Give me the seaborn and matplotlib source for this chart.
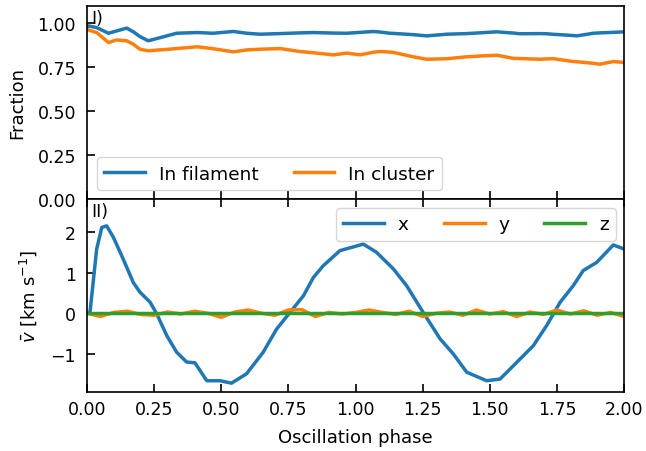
import numpy as np
import pandas as pd
import matplotlib
matplotlib.use("Agg")
import matplotlib.pyplot as plt
import seaborn as sns

# Fraction of particles in each structure vs oscillation phase
frac_phase = [0.0, 0.005, 0.036, 0.08, 0.11, 0.148, 0.173, 0.197, 0.228, 0.26,
              0.297, 0.334, 0.41, 0.47, 0.545, 0.595, 0.644, 0.719, 0.793, 0.843,
              0.917, 0.967, 1.017, 1.066, 1.091, 1.128, 1.141, 1.215, 1.265, 1.34,
              1.414, 1.47, 1.526, 1.588, 1.613, 1.687, 1.712, 1.737, 1.811, 1.824,
              1.886, 1.91, 1.96, 2.0]
in_filament = [0.975, 0.985, 0.975, 0.943, 0.956, 0.972, 0.951, 0.924, 0.90, 0.913,
               0.928, 0.943, 0.947, 0.943, 0.953, 0.943, 0.9375, 0.941, 0.945, 0.947,
               0.944, 0.943, 0.948, 0.953, 0.950, 0.943, 0.942, 0.935, 0.928, 0.9375,
               0.941, 0.946, 0.951, 0.944, 0.94, 0.941, 0.94, 0.937, 0.930, 0.928,
               0.943, 0.945, 0.948, 0.951]
in_cluster = [0.965, 0.962, 0.947, 0.89, 0.905, 0.90, 0.88, 0.852, 0.843, 0.847,
              0.851, 0.856, 0.866, 0.855, 0.837, 0.848, 0.852, 0.856, 0.839, 0.832,
              0.82, 0.83, 0.82, 0.835, 0.839, 0.836, 0.834, 0.809, 0.795, 0.798,
              0.809, 0.814, 0.818, 0.80, 0.799, 0.795, 0.797, 0.798, 0.782, 0.781,
              0.772, 0.767, 0.782, 0.777]

# Mean velocity components vs oscillation phase
vx_phase = [0.0, 0.011, 0.036, 0.055, 0.073, 0.098, 0.135, 0.172, 0.197, 0.235,
            0.26, 0.297, 0.334, 0.371, 0.402, 0.446, 0.495, 0.538, 0.594, 0.656,
            0.706, 0.756, 0.806, 0.843, 0.88, 0.942, 1.029, 1.078, 1.141, 1.19,
            1.252, 1.315, 1.364, 1.414, 1.488, 1.538, 1.588, 1.662, 1.712, 1.762,
            1.811, 1.848, 1.898, 1.96, 2.0]
vx = [0.0, 0.02, 1.58, 2.11, 2.15, 1.87, 1.33, 0.76, 0.52, 0.27,
      -0.02, -0.55, -0.96, -1.2, -1.22, -1.66, -1.66, -1.72, -1.49, -0.96,
      -0.39, 0.02, 0.43, 0.88, 1.17, 1.54, 1.70, 1.50, 1.09, 0.68,
      0.02, -0.63, -1.0, -1.45, -1.66, -1.62, -1.29, -0.80, -0.30, 0.27,
      0.68, 1.05, 1.25, 1.68, 1.58]

vyz_phase = [0.0, 0.05, 0.1, 0.15, 0.2, 0.25, 0.3, 0.35, 0.4, 0.45,
             0.5, 0.55, 0.6, 0.65, 0.7, 0.75, 0.8, 0.85, 0.9, 0.95,
             1.0, 1.05, 1.1, 1.15, 1.2, 1.25, 1.3, 1.35, 1.4, 1.45,
             1.5, 1.55, 1.6, 1.65, 1.7, 1.75, 1.8, 1.85, 1.9, 1.95, 2.0]
vy = [0.0, -0.08, 0.02, 0.05, -0.03, -0.05, 0.03, -0.02, 0.05, 0.0,
      -0.1, 0.03, 0.08, 0.0, -0.05, 0.08, 0.09, -0.08, 0.02, -0.02,
      0.02, 0.08, 0.02, -0.03, 0.05, -0.08, 0.0, 0.03, -0.05, 0.08,
      -0.02, 0.04, -0.08, 0.03, -0.03, 0.08, -0.02, 0.06, -0.05, 0.02, -0.08]
vz = [0.0] * len(vyz_phase)

plt.rcParams["font.family"] = ["DejaVu Sans"]
plt.rcParams["font.size"] = 12
plt.rcParams["axes.linewidth"] = 1.2

colors = sns.color_palette("tab10")

fig = plt.figure(figsize=(6.46, 4.52), dpi=100)
ax1 = fig.add_axes([0.1347, 0.5575, 0.8313, 0.4278])
ax2 = fig.add_axes([0.1347, 0.1312, 0.8313, 0.4263], sharex=ax1)

lw = 2.5
sns.lineplot(x=frac_phase, y=in_filament, ax=ax1, color=colors[0], lw=lw,
             label="In filament", sort=False)
sns.lineplot(x=frac_phase, y=in_cluster, ax=ax1, color=colors[1], lw=lw,
             label="In cluster", sort=False)

sns.lineplot(x=vx_phase, y=vx, ax=ax2, color=colors[0], lw=lw, label="x", sort=False)
sns.lineplot(x=vyz_phase, y=vy, ax=ax2, color=colors[1], lw=lw, label="y", sort=False)
sns.lineplot(x=vyz_phase, y=vz, ax=ax2, color=colors[2], lw=lw, label="z", sort=False)

tick_fs = 12.5
label_fs = 13
legend_kw = dict(fontsize=13.3, handlelength=2.2, handletextpad=0.75,
                 columnspacing=1.9, borderaxespad=0.0)

ax1.set_xlim(0, 2)
ax1.set_ylim(0, 1.1)
ax1.set_yticks([0, 0.25, 0.5, 0.75, 1.0])
ax1.set_yticklabels(["0.00", "0.25", "0.50", "0.75", "1.00"])
ax1.set_ylabel("Fraction", fontsize=label_fs, labelpad=8)
ax1.tick_params(axis="both", direction="in", length=6, width=1.2, labelsize=tick_fs)
ax1.tick_params(axis="y", pad=8)
ax1.tick_params(axis="x", labelbottom=False)
ax1.text(0.008, 0.985, "I)", transform=ax1.transAxes, ha="left", va="top",
         fontsize=12.5, zorder=1)
ax1.legend(loc="lower left", ncol=2, bbox_to_anchor=(0.0186, 0.0466), **legend_kw)

ax2.set_ylim(-1.93, 2.81)
ax2.set_yticks([-1, 0, 1, 2])
ax2.set_yticklabels(["\u22121", "0", "1", "2"])
ax2.set_xticks(np.arange(0, 2.01, 0.25))
ax2.set_xticklabels([f"{t:.2f}" for t in np.arange(0, 2.01, 0.25)])
ax2.set_ylabel(r"$\bar{v}$ [km s$^{-1}$]", fontsize=label_fs, labelpad=8)
ax2.set_xlabel("Oscillation phase", fontsize=label_fs, labelpad=7)
ax2.tick_params(axis="both", direction="in", length=6, width=1.2, labelsize=tick_fs)
ax2.tick_params(axis="x", top=True, pad=6)
ax2.tick_params(axis="y", pad=8)
ax2.text(0.008, 0.985, "II)", transform=ax2.transAxes, ha="left", va="top",
         fontsize=12.5, zorder=1)
ax2.legend(loc="upper right", ncol=3, bbox_to_anchor=(0.985, 0.953), **legend_kw)

fig.align_ylabels([ax1, ax2])
fig.savefig("out.png", dpi=100)
